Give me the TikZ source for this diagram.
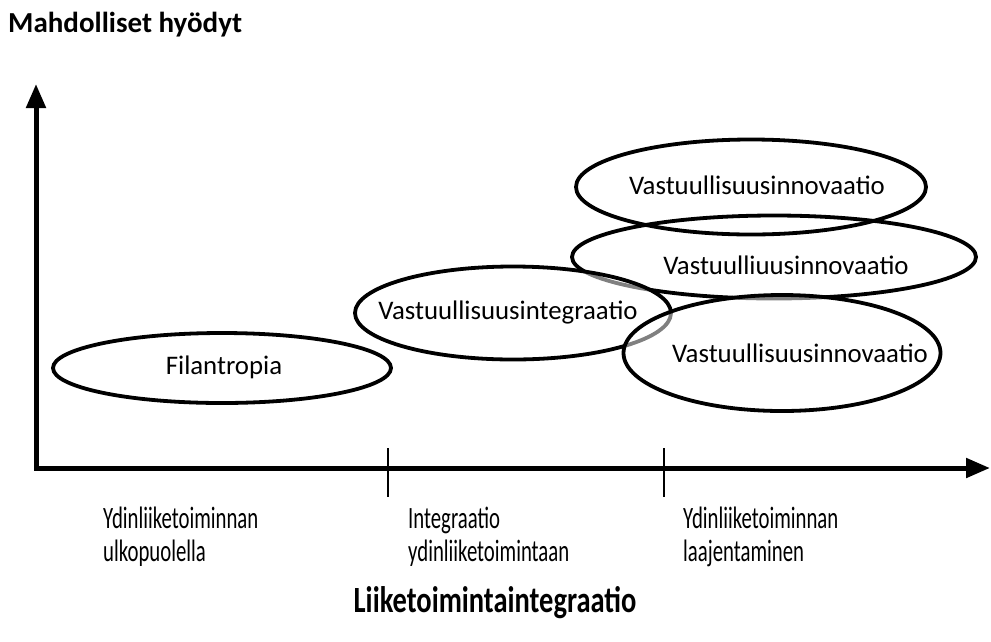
\documentclass[tikz,border=0pt]{standalone}
\usepackage{fontspec}
\setmainfont{Carlito}
\newfontfamily\kapea[FakeStretch=0.67]{Carlito}
\newfontfamily\kapeabold[FakeStretch=0.77]{Carlito Bold}
\usetikzlibrary{shapes.geometric,arrows.meta,positioning}

\begin{document}
\begin{tikzpicture}[
    x=1pt, y=-1pt,
    kupla/.style={ellipse, draw=black, line width=3.8pt, inner sep=0pt},
    puoliks/.style={fill=white, fill opacity=0.5},
    teksti/.style={font=\fontsize{26.8}{30}\selectfont, inner sep=0pt},
    akseli/.style={line width=5pt, {Triangle[length=24pt,width=19pt]}-{Triangle[length=24pt,width=19pt]}},
    jako/.style={line width=1.6pt},
    selite/.style={font=\kapea\fontsize{31}{33}\selectfont, align=left, anchor=north west, inner sep=0pt},
    otsikko/.style={font=\fontsize{29}{32}\selectfont\bfseries, inner sep=0pt}
]
\useasboundingbox (0,0) rectangle (991,641);

% akselit
\coordinate (origo) at (36,468);
\coordinate (ykarki) at (36,84);
\coordinate (xkarki) at (990,468);
\draw[akseli] (ykarki) -- (origo) -- (xkarki);
\foreach \x in {388,664}
    \draw[jako] (\x,448) -- (\x,497);

% kuplat
\node[kupla, minimum width=338, minimum height=70] (filan) at (222,368) {};
\node[kupla, minimum width=350, minimum height=95] (innov1) at (751,187) {};
\node[kupla, minimum width=404, minimum height=83] (innov2) at (774,257) {};
\node[kupla, puoliks, minimum width=316, minimum height=93] (integ) at (513,313) {};
\node[kupla, puoliks, minimum width=317, minimum height=116] (innov3) at (782,353) {};

% kuplien tekstit
\node[teksti] (t_filan) at (224,367) {Filantropia};
\node[teksti] (t_integ) at (508,312) {Vastuullisuusintegraatio};
\node[teksti] (t_innov1) at (757,185) {Vastuullisuusinnovaatio};
\node[teksti] (t_innov2) at (786,265) {Vastuulliuusinnovaatio};
\node[teksti] (t_innov3) at (800,353) {Vastuullisuusinnovaatio};

% akseleiden tekstit
\node[otsikko, anchor=west] (ytitle) at (8,25) {Mahdolliset hyödyt};
\node[selite] (vaihe1) at (103,507) {Ydinliiketoiminnan\\ulkopuolella};
\node[selite] (vaihe2) at (408,507) {Integraatio\\ydinliiketoimintaan};
\node[selite] (vaihe3) at (683,507) {Ydinliiketoiminnan\\laajentaminen};
\node[inner sep=0pt, font=\kapeabold\fontsize{37}{40}\selectfont] (xtitle) at (495,603) {Liiketoimintaintegraatio};

\end{tikzpicture}
\end{document}
